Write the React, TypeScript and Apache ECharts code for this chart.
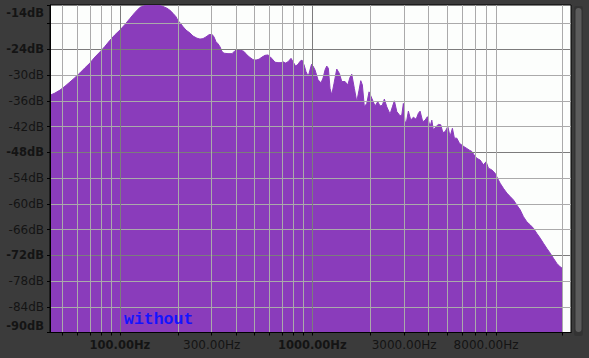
import React, { useEffect, useRef } from "react";
import * as echarts from "echarts";

// Spectrum outline (frequency in Hz, level in dB)
const freqHz = [
  43.3, 45.9, 48.8, 51.8, 55.0, 58.3, 61.9, 65.8, 69.8, 74.1, 78.7, 83.6, 88.7, 94.2, 100, 106.2, 112.7, 119.7,
  127.1, 134.9, 143.2, 152.1, 161.4, 167.4, 175.5, 182.0, 188.7, 195.6, 200.3, 205.1, 212.6, 220.4, 231.2, 239.7,
  251.4, 260.6, 270.2, 280.1, 290.3, 300.9, 308.2, 315.7, 323.3, 331.1, 339.2, 347.4, 364.4, 382.3, 396.3, 410.8,
  425.8, 441.4, 457.5, 474.3, 491.7, 509.6, 528.3, 547.6, 567.5, 588.4, 602.6, 617.2, 639.7, 663.1, 687.4, 704.1,
  725.5, 747.5, 774.9, 793.7, 817.8, 842.6, 862.9, 883.9, 905.3, 927.3, 949.8, 961.2, 990.4, 1008.3, 1032.7,
  1070.5, 1109.7, 1136.6, 1164.1, 1188.2, 1211.2, 1236.0, 1261.6, 1296.7, 1339.4, 1381.7, 1422.1, 1479.1, 1528.0,
  1570.4, 1602.9, 1653.5, 1701.8, 1749.1, 1785.0, 1819.7, 1863.8, 1917.9, 1971.6, 2036.6, 2118.4, 2188.3, 2249.1,
  2312.1, 2368.1, 2437.2, 2535.1, 2606.2, 2669.3, 2747.3, 2857.6, 2916.8, 2973.1, 3033.9, 3096.7, 3156.5, 3248.7,
  3351.3, 3461.1, 3558.1, 3630.8, 3749.7, 3854.8, 3962.8, 4092.6, 4177.3, 4258.0, 4397.5, 4520.7, 4652.7, 4765.5,
  4897.8, 5058.8, 5199.6, 5345.3, 5474.8, 5635.4, 5813.4, 5983.1, 6149.1, 6351.9, 6552.4, 6743.7, 6931.0, 7159.8,
  7447.3, 7748.3, 8002.3, 8226.5, 8568.7, 8912.5, 9162.2, 9462.4, 9844.5, 10254, 10666, 11097, 11558, 12023,
  12508, 13028, 13552, 14098, 14684, 15276, 15892, 16553, 17219, 17915, 18660, 19409, 19879,
];
const levelDb = [
  -34.7, -34.2, -33.5, -32.6, -31.6, -30.6, -29.5, -28.3, -27.2, -25.8, -24.6, -23.3, -21.9, -20.6, -19.5, -18.2,
  -16.8, -15.4, -14.2, -13.8, -13.8, -13.8, -13.8, -14.0, -14.4, -14.9, -15.6, -16.4, -17.3, -17.8, -18.7, -19.5,
  -20.2, -20.9, -21.4, -21.6, -21.5, -21.1, -20.6, -20.5, -21.1, -22.2, -22.7, -23.4, -24.5, -24.9, -25.0, -25.0,
  -24.3, -24.1, -24.2, -24.5, -25.3, -25.9, -26.4, -26.5, -26.3, -25.8, -25.4, -25.3, -25.7, -26.2, -27.0, -27.1,
  -27.1, -26.9, -27.2, -26.9, -26.1, -26.9, -27.9, -27.5, -26.8, -26.5, -27.6, -29.2, -30.2, -29.6, -27.5, -27.9,
  -28.8, -31.1, -31.8, -30.7, -28.8, -27.9, -28.4, -33.1, -34.6, -31.9, -28.6, -29.6, -31.5, -31.5, -32.3, -30.5,
  -29.8, -33.1, -36.2, -33.5, -31.3, -32.3, -37.4, -36.6, -33.9, -35.4, -37.2, -36.2, -37.2, -37.0, -35.6, -37.4,
  -39.1, -37.4, -36.0, -38.5, -39.5, -39.3, -36.6, -41.2, -40.5, -38.4, -40.5, -39.8, -40.3, -38.9, -38.4, -40.9,
  -40.5, -39.7, -42.0, -40.5, -42.8, -42.0, -41.5, -41.6, -43.4, -43.2, -42.0, -44.3, -42.4, -44.7, -44.7, -45.9,
  -46.3, -46.7, -47.1, -47.5, -47.8, -48.6, -49.4, -49.8, -50.9, -50.2, -51.7, -52.1, -52.9, -54.0, -55.2, -56.4,
  -57.5, -58.3, -59.1, -60.3, -61.4, -63.0, -64.2, -64.9, -65.7, -66.9, -68.0, -69.2, -70.4, -71.5, -72.7, -73.9,
  -74.7, -75.0,
];

// Axis ticks / labels
const gridFreqs = [50, 60, 70, 80, 90, 100, 200, 300, 400, 500, 600, 700, 800, 900, 1000, 2000, 3000, 4000, 5000, 6000, 7000, 8000, 9000, 20000];
const majorFreqs = [100, 1000];
const freqLabels = [100, 300, 1000, 3000, 8000];
const dbLabels = [-90, -84, -78, -72, -66, -60, -54, -48, -42, -36, -30, -24, -14];
const majorDb = [-90, -72, -48, -24, -14];
const traceName = "without";

const X_MIN = 43.3;
const X_MAX = 22100;
const Y_MIN = -90;
const Y_MAX = -13.66;
const Y_STEP = 6;

const PURPLE = "#8a3cbb";
const GRID_LIGHT = "#aaaaaa";
const GRID_DARK = "#7c7c7c";
const TEXT = "#141414";
const FONT = "DejaVu Sans";

export default function App() {
  const ref = useRef<HTMLDivElement>(null);

  useEffect(() => {
    if (!ref.current) return;
    const chart = echarts.init(ref.current, undefined, { renderer: "svg" });
    const data = freqHz.map((f, i) => [f, levelDb[i]]);
    const xSplitColors = gridFreqs.map((f) => (majorFreqs.includes(f) ? GRID_DARK : GRID_LIGHT));

    chart.setOption({
      animation: false,
      backgroundColor: "#3b3b3b",
      title: {
        text: traceName,
        left: 124,
        top: 311,
        padding: 0,
        textStyle: { fontFamily: "Liberation Mono", fontSize: 16.5, fontWeight: "bold", color: "#1414ff" },
      },
      grid: {
        left: 50,
        top: 5,
        width: 521,
        height: 327.5,
        show: true,
        backgroundColor: "#fcfefc",
        borderColor: "#000",
        borderWidth: 1,
      },
      xAxis: {
        type: "log",
        logBase: 10,
        min: X_MIN,
        max: X_MAX,
        z: 5,
        axisLine: { show: true, lineStyle: { color: "#000", width: 1 } },
        axisTick: { show: true, customValues: gridFreqs, length: 3, lineStyle: { color: "#000" } },
        minorTick: { show: false },
        axisLabel: {
          customValues: freqLabels,
          margin: 6,
          formatter: (v: number) => {
            const s = `${Math.round(v).toFixed(2)}Hz`;
            return majorFreqs.includes(Math.round(v)) ? `{b|${s}}` : `{n|${s}}`;
          },
          rich: {
            b: { fontFamily: FONT, fontSize: 11.5, fontWeight: "bold", color: TEXT },
            n: { fontFamily: FONT, fontSize: 12, color: TEXT },
          },
        },
        splitLine: { show: true, lineStyle: { color: xSplitColors, width: 1 } },
      },
      yAxis: {
        type: "value",
        min: Y_MIN,
        max: Y_MAX,
        interval: Y_STEP,
        z: 5,
        axisLine: { show: true, lineStyle: { color: "#000", width: 1 } },
        axisTick: { show: true, length: 3, lineStyle: { color: "#000" } },
        axisLabel: {
          customValues: dbLabels,
          margin: 6,
          formatter: (v: number) => {
            const s = `${v}dB`;
            if (v === -14) return `{top|${s}}`;
            if (v === -90) return `{bot|${s}}`;
            return majorDb.includes(v) ? `{b|${s}}` : `{n|${s}}`;
          },
          rich: {
            top: { fontFamily: FONT, fontSize: 11.5, fontWeight: "bold", color: TEXT, padding: [14, 0, 0, 0] },
            bot: { fontFamily: FONT, fontSize: 11.5, fontWeight: "bold", color: TEXT, padding: [0, 0, 14, 0] },
            b: { fontFamily: FONT, fontSize: 11.5, fontWeight: "bold", color: TEXT },
            n: { fontFamily: FONT, fontSize: 12, color: TEXT },
          },
        },
        splitLine: {
          show: true,
          showMinLine: false,
          showMaxLine: false,
          lineStyle: { color: [GRID_LIGHT, GRID_LIGHT, GRID_DARK, GRID_LIGHT], width: 1 },
        },
      },
      series: [
        {
          type: "line",
          data,
          symbol: "none",
          silent: true,
          z: 2,
          lineStyle: { color: PURPLE, width: 1 },
          areaStyle: { color: PURPLE, opacity: 1, origin: "start" },
        },
      ],
      graphic: [
        { type: "rect", left: 574, top: 6, shape: { width: 9, height: 330, r: 2 }, style: { fill: "#333333" } },
        { type: "rect", left: 575.5, top: 8, shape: { width: 6, height: 324, r: 3 }, style: { fill: "#5c5c5c" } },
      ],
    });
    return () => chart.dispose();
  }, []);

  return (
    <div
      ref={ref}
      style={{ position: "fixed", left: 0, top: 0, width: 589, height: 358 }}
    />
  );
}
